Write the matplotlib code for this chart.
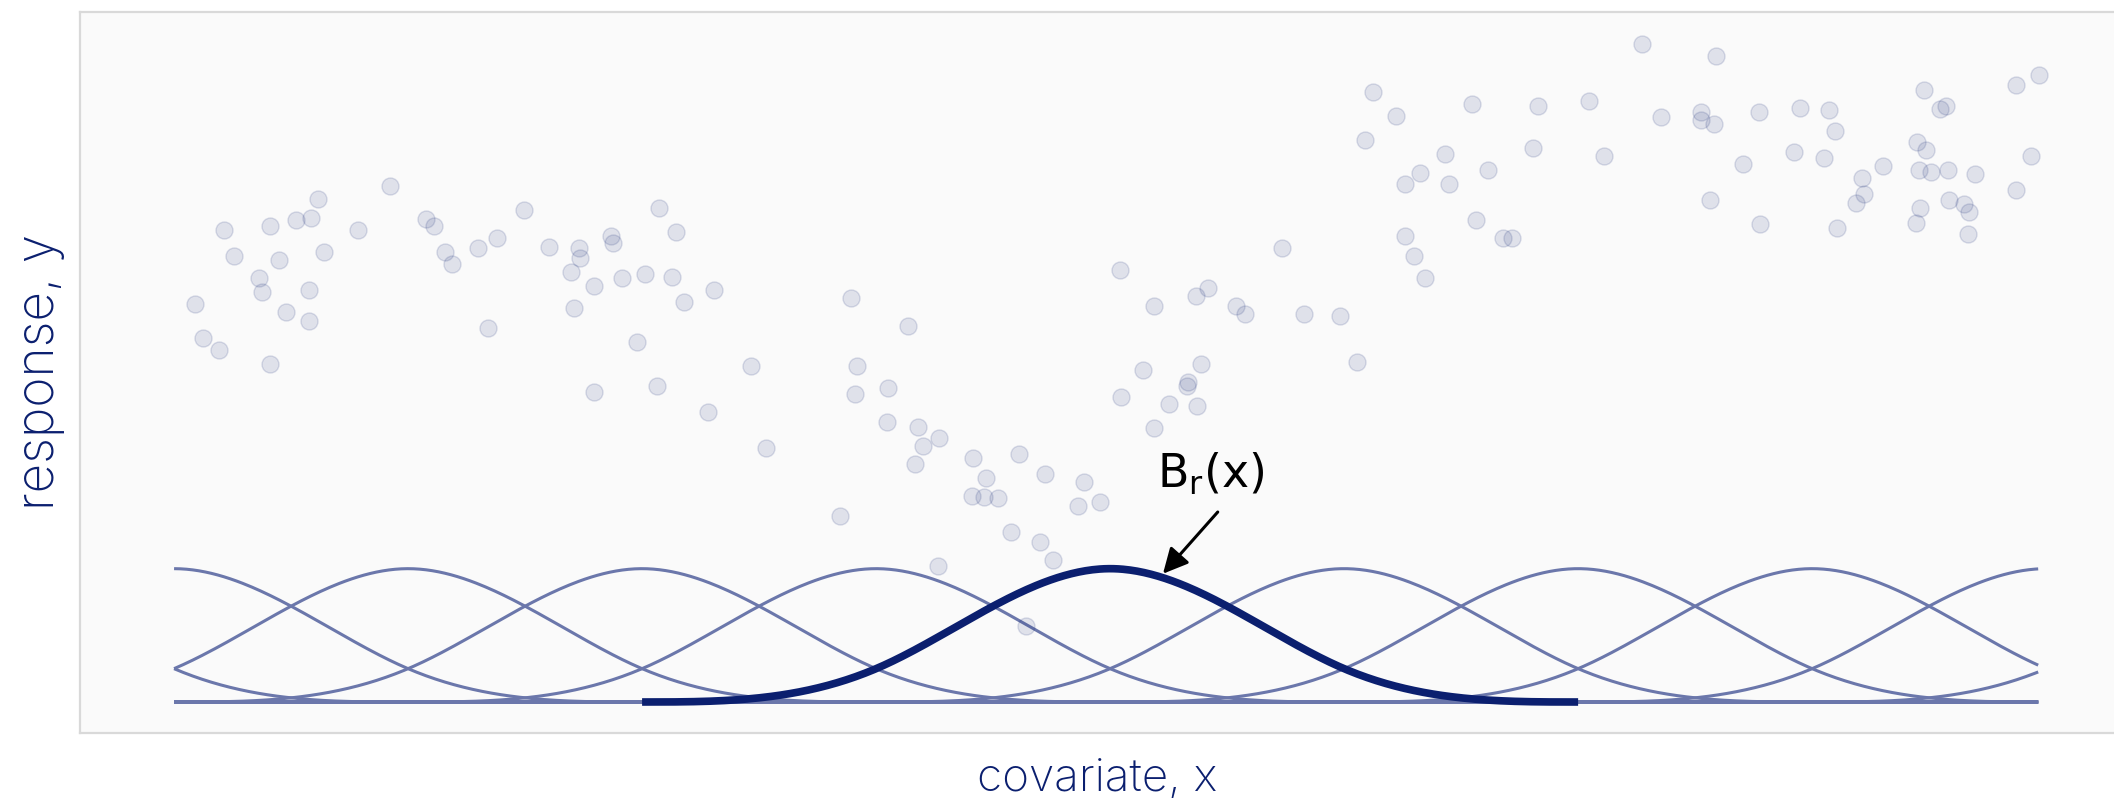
import matplotlib
matplotlib.use("Agg")
import matplotlib.pyplot as plt
import numpy as np

# observed points (covariate in knot units, response)
COVARIATE_X = [
    0.090, 0.125, 0.192, 0.212, 0.256, 0.365, 0.377, 0.409, 0.412, 0.449,
    0.479, 0.521, 0.576, 0.576, 0.585, 0.617, 0.641, 0.788, 0.924, 1.078,
    1.111, 1.158, 1.189, 1.298, 1.343, 1.379, 1.496, 1.604, 1.697, 1.709,
    1.729, 1.735, 1.794, 1.795, 1.869, 1.875, 1.916, 1.979, 2.013, 2.063,
    2.071, 2.129, 2.144, 2.178, 2.282, 2.309, 2.466, 2.531, 2.846, 2.892,
    2.909, 2.918, 3.047, 3.051, 3.138, 3.165, 3.179, 3.202, 3.264, 3.268,
    3.410, 3.412, 3.459, 3.469, 3.521, 3.578, 3.610, 3.640, 3.700, 3.722,
    3.758, 3.862, 3.889, 3.956, 4.043, 4.048, 4.140, 4.189, 4.189, 4.251,
    4.330, 4.335, 4.366, 4.371, 4.390, 4.419, 4.540, 4.578, 4.735, 4.828,
    4.983, 5.054, 5.091, 5.124, 5.221, 5.261, 5.262, 5.300, 5.325, 5.346,
    5.433, 5.449, 5.547, 5.565, 5.614, 5.678, 5.717, 5.806, 5.830, 6.048,
    6.110, 6.274, 6.355, 6.524, 6.527, 6.564, 6.580, 6.591, 6.705, 6.775,
    6.778, 6.922, 6.947, 7.050, 7.071, 7.098, 7.108, 7.188, 7.211, 7.222,
    7.302, 7.446, 7.450, 7.456, 7.462, 7.480, 7.486, 7.506, 7.546, 7.573,
    7.582, 7.587, 7.648, 7.664, 7.670, 7.694, 7.871, 7.871, 7.935, 7.970,
]
RESPONSE_Y = [
    1.99, 1.82, 1.76, 2.36, 2.23, 2.12, 2.05, 1.69, 2.38, 2.21,
    1.95, 2.41, 2.06, 1.905, 2.42, 2.515, 2.25, 2.36, 2.58, 2.415,
    2.38, 2.25, 2.19, 2.27, 1.87, 2.32, 2.46, 2.275, 2.15, 1.97,
    2.27, 2.22, 1.55, 2.08, 2.33, 2.295, 2.12, 1.80, 2.14, 1.58,
    2.47, 2.125, 2.35, 2.00, 1.45, 2.06, 1.68, 1.27, 0.93, 2.02,
    1.54, 1.68, 1.40, 1.57, 1.88, 1.19, 1.375, 1.28, 0.68, 1.32,
    1.03, 1.22, 1.025, 1.12, 1.02, 0.85, 1.24, 0.38, 0.80, 1.14,
    0.71, 0.98, 1.10, 1.00, 2.16, 1.525, 1.66, 1.98, 1.37, 1.49,
    1.58, 1.60, 2.03, 1.48, 1.69, 2.07, 1.98, 1.94, 2.27, 1.94,
    1.93, 1.70, 2.81, 3.05, 2.93, 2.59, 2.33, 2.23, 2.645, 2.12,
    2.74, 2.59, 2.99, 2.41, 2.66, 2.32, 2.32, 2.77, 2.98, 3.005,
    2.73, 3.29, 2.925, 2.95, 2.91, 2.51, 2.89, 3.23, 2.69, 2.95,
    2.39, 2.75, 2.97, 2.72, 2.96, 2.855, 2.37, 2.495, 2.62, 2.54,
    2.68, 2.395, 2.80, 2.66, 2.47, 3.06, 2.76, 2.65, 2.965, 2.98,
    2.66, 2.51, 2.49, 2.34, 2.45, 2.64, 3.085, 2.56, 2.73, 3.135,
]

# cubic B-spline basis on equally spaced knots
KNOTS = [-3, -2, -1, 0, 1, 2, 3, 4, 5, 6, 7, 8, 9, 10, 11]
DEGREE = 3
X_RANGE = (0.0, 7.966)
HIGHLIGHT = 5  # basis index whose bump is centred on knot 4

NAVY = "#0b1f6f"
THIN = "#6b77ab"
LABEL_FONT = ["Inter", "DejaVu Sans"]


def basis(x, knots, i, k):
    if k == 0:
        return ((knots[i] <= x) & (x < knots[i + 1])).astype(float)
    left = (x - knots[i]) / (knots[i + k] - knots[i]) * basis(x, knots, i, k - 1)
    right = (knots[i + k + 1] - x) / (knots[i + k + 1] - knots[i + 1]) * basis(x, knots, i + 1, k - 1)
    return left + right


def main():
    fig = plt.figure(figsize=(21.14, 8), dpi=100)
    ax = fig.add_axes([80 / 2114, 67 / 800, 1 - 80 / 2114, 721 / 800])
    ax.set_facecolor("#fafafa")

    xs = np.linspace(*X_RANGE, 600)
    n_basis = len(KNOTS) - DEGREE - 1
    for i in range(n_basis):
        b = basis(xs, KNOTS, i, DEGREE)
        if b.max() <= 0:
            continue
        ax.plot(xs, b, color=THIN, lw=2.2, zorder=2, solid_capstyle="butt")

    ax.scatter(COVARIATE_X, RESPONSE_Y, s=150,
               facecolor=(0.043, 0.12, 0.435, 0.11),
               edgecolor=(0.043, 0.12, 0.435, 0.14),
               linewidth=1.0, zorder=3)

    lo, hi = KNOTS[HIGHLIGHT], KNOTS[HIGHLIGHT + DEGREE + 1]
    xr = np.linspace(lo, hi, 400)
    br = basis(xr, KNOTS, HIGHLIGHT, DEGREE)
    ax.plot(xr, br, color=NAVY, lw=5.5, zorder=4, solid_capstyle="butt")

    # annotation arrow pointing at the highlighted basis function
    tip_x = 4.226
    tip_y = float(basis(np.array([tip_x]), KNOTS, HIGHLIGHT, DEGREE)[0]) + 0.02
    ax.annotate("", xy=(tip_x, tip_y), xytext=(4.46, 0.95),
                arrowprops=dict(arrowstyle="-|>", color="black", lw=2.2,
                                mutation_scale=38, shrinkA=0, shrinkB=0),
                zorder=5)
    ax.text(4.43, 1.14, r"$\mathsf{B_r}\left(\mathsf{x}\right)$", fontsize=33,
            ha="center", va="center", color="black", zorder=5)

    ax.set_xlim(-0.402, 8.29)
    ax.set_ylim(-0.155, 3.45)
    ax.set_xticks([])
    ax.set_yticks([])
    for side in ("top", "bottom", "left"):
        ax.spines[side].set_color("#d9d9d9")
        ax.spines[side].set_linewidth(1.6)
    ax.spines["right"].set_visible(False)

    ax.set_xlabel("covariate, x", fontsize=33, color=NAVY, family=LABEL_FONT,
                  fontweight="light", labelpad=18)
    ax.set_ylabel("response, y", fontsize=37, color=NAVY, family=LABEL_FONT,
                  fontweight="light", labelpad=11)

    fig.savefig("out.png", dpi=100, facecolor="white")
    plt.close(fig)


if __name__ == "__main__":
    main()
